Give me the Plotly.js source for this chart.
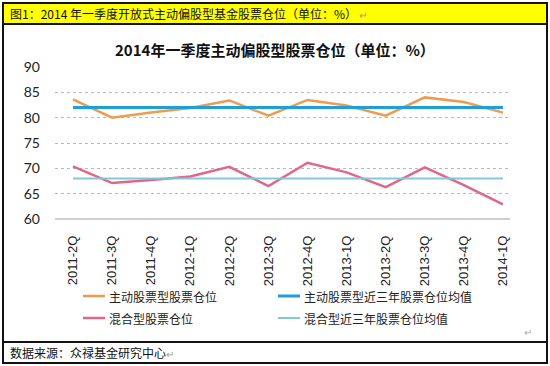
<!DOCTYPE html>
<html><head><meta charset="utf-8">
<script src="https://cdn.plot.ly/plotly-3.0.1.min.js"></script>
<style>html,body{margin:0;padding:0;background:#fff}#chart{width:550px;height:366px}</style>
</head><body><div id="chart"></div>
<script>
var quarters = ['2011-2Q','2011-3Q','2011-4Q','2012-1Q','2012-2Q','2012-3Q','2012-4Q','2013-1Q','2013-2Q','2013-3Q','2013-4Q','2014-1Q'];
var activeStock = [83.6, 80.0, 81.0, 81.9, 83.4, 80.4, 83.5, 82.4, 80.4, 84.0, 83.1, 81.0];
var activeStockAvg = [82.0, 82.0, 82.0, 82.0, 82.0, 82.0, 82.0, 82.0, 82.0, 82.0, 82.0, 82.0];
var hybridStock = [70.4, 67.1, 67.7, 68.4, 70.3, 66.5, 71.1, 69.2, 66.3, 70.2, 66.7, 62.9];
var hybridStockAvg = [68.0, 68.0, 68.0, 68.0, 68.0, 68.0, 68.0, 68.0, 68.0, 68.0, 68.0, 68.0];
var seriesNames = ['主动股票型股票仓位','主动股票型近三年股票仓位均值','混合型股票仓位','混合型近三年股票仓位均值'];
var seriesColors = ['#ef9a4f','#1e9fd8','#e0668a','#82c8da'];
var seriesWidths = [2.5, 3, 2.5, 2];

// plot area in pixels: left 55, right 510, top 67, bottom 219
var L=55, R=510, T=67, B=219, W=550, H=366;
function px(x){return (x-L)/(R-L);}
function py(y){return (B-y)/(B-T);}

var seriesData = [activeStock, activeStockAvg, hybridStock, hybridStockAvg];
var traces = seriesData.map(function(d,i){
  return {x:quarters, y:d, name:seriesNames[i], mode:'lines', line:{color:seriesColors[i], width:seriesWidths[i]}, showlegend:false};
});

var cjk = '"Noto Sans CJK SC", sans-serif';
var shapes = [
  {type:'rect', xref:'paper', yref:'paper', x0:px(3), x1:px(547), y0:py(24), y1:py(3), fillcolor:'#ffff00', line:{width:0}, layer:'below'},
  {type:'rect', xref:'paper', yref:'paper', x0:px(3), x1:px(547), y0:py(363), y1:py(3), line:{color:'#111', width:2}, fillcolor:'rgba(0,0,0,0)'},
  {type:'line', xref:'paper', yref:'paper', x0:px(3), x1:px(547), y0:py(24), y1:py(24), line:{color:'#111', width:2}},
  {type:'line', xref:'paper', yref:'paper', x0:px(3), x1:px(547), y0:py(342), y1:py(342), line:{color:'#111', width:2}},
  {type:'line', xref:'paper', yref:'paper', x0:0, x1:1, y0:0, y1:0, line:{color:'#bfbfbf', width:1.5}}
];
var annotations = [
  {xref:'paper', yref:'paper', x:px(8), y:py(13.5), xanchor:'left', yanchor:'middle', showarrow:false,
   text:'图1：2014 年一季度开放式主动偏股型基金股票仓位（单位：%）<span style="color:#999;font-size:10px"> ↵</span>',
   font:{family:cjk, size:12, color:'#111'}},
  {xref:'paper', yref:'paper', x:px(275), y:py(50), xanchor:'center', yanchor:'middle', showarrow:false,
   text:'<b>2014年一季度主动偏股型股票仓位（单位：%）</b>',
   font:{family:cjk, size:15, color:'#111'}},
  {xref:'paper', yref:'paper', x:px(8), y:py(352.5), xanchor:'left', yanchor:'middle', showarrow:false,
   text:'数据来源：众禄基金研究中心<span style="color:#999;font-size:10px">↵</span>',
   font:{family:cjk, size:12, color:'#111'}},
  {xref:'paper', yref:'paper', x:px(528), y:py(331), xanchor:'center', yanchor:'middle', showarrow:false,
   text:'↵', font:{family:cjk, size:10, color:'#aaa'}}
];
// legend (2 x 2), drawn as shapes + text
var legCols = [83, 278], legRows = [296, 318];
seriesNames.forEach(function(n,i){
  var cx = legCols[i%2], cy = legRows[Math.floor(i/2)];
  shapes.push({type:'line', xref:'paper', yref:'paper', x0:px(cx), x1:px(cx+22), y0:py(cy), y1:py(cy),
    line:{color:seriesColors[i], width:seriesWidths[i]}});
  annotations.push({xref:'paper', yref:'paper', x:px(cx+24), y:py(cy), xanchor:'left', yanchor:'middle', showarrow:false,
    text:n, font:{family:cjk, size:12, color:'#222'}});
});

var layout = {
  width:W, height:H,
  margin:{l:L, r:W-R, t:T, b:H-B, pad:0, autoexpand:false},
  paper_bgcolor:'#ffffff', plot_bgcolor:'#ffffff',
  showlegend:false,
  xaxis:{type:'category', range:[-0.46, 11.18], showgrid:false, zeroline:false, automargin:false,
    showline:false, ticks:'', tickangle:-90, ticklabelstandoff:13,
    tickfont:{family:'"Liberation Sans", Arial, sans-serif', size:13, color:'#222'}},
  yaxis:{range:[60,90], dtick:5, showgrid:true, gridcolor:'#b8b8b8', griddash:'dot', gridwidth:1, automargin:false,
    zeroline:false, showline:false, ticks:'', ticklabelstandoff:14,
    tickfont:{family:'Lato, "Liberation Sans", sans-serif', size:14, color:'#222'}},
  shapes:shapes,
  annotations:annotations
};
Plotly.newPlot('chart', traces, layout, {staticPlot:true, displayModeBar:false});
</script></body></html>
